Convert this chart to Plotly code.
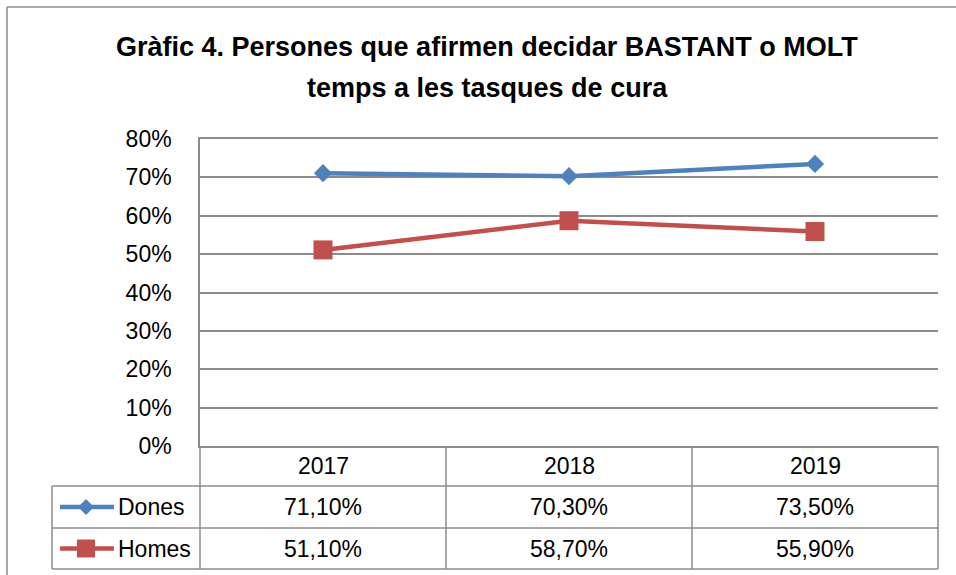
import plotly.graph_objects as go

# ---- data ----
years = ["2017", "2018", "2019"]
dones = [71.1, 70.3, 73.5]
homes = [51.1, 58.7, 55.9]
series_names = ["Dones", "Homes"]
y_ticks = [0, 10, 20, 30, 40, 50, 60, 70, 80]
title_lines = ["Gràfic 4. Persones que afirmen decidar BASTANT o MOLT",
               "temps a les tasques de cura"]

W, H = 956, 575
BLUE = "#4F81BD"
RED = "#C0504D"
GRID = "#8C8C8C"
FONT = "Liberation Sans"


def X(px):
    return px / W


def Y(py):
    return 1 - py / H


# plot area in pixels
PL, PR, PT, PB = 200, 938, 139, 446

fig = go.Figure()
fig.add_trace(go.Scatter(
    x=years, y=dones, mode="lines+markers", name=series_names[0],
    line=dict(color=BLUE, width=4.5),
    marker=dict(symbol="diamond", size=14, color=BLUE),
))
fig.add_trace(go.Scatter(
    x=years, y=homes, mode="lines+markers", name=series_names[1],
    line=dict(color=RED, width=4.5),
    marker=dict(symbol="square", size=19, color=RED),
))

shapes = []
def hline(y, x0, x1):
    shapes.append(dict(type="line", xref="paper", yref="paper",
                       x0=X(x0), x1=X(x1), y0=Y(y), y1=Y(y),
                       line=dict(color=GRID, width=1.5)))

def vline(x, y0, y1):
    shapes.append(dict(type="line", xref="paper", yref="paper",
                       x0=X(x), x1=X(x), y0=Y(y0), y1=Y(y1),
                       line=dict(color=GRID, width=1.5)))

# outer frame
vline(7, 7, 575)
hline(7, 7, 956)

# table grid
col_edges = [PL, 446, 692, PR]
row_edges = [PB, 486, 528, 569]
for x in col_edges:
    vline(x, PB, row_edges[-1])
vline(52, row_edges[1], row_edges[-1])
for y in row_edges[1:]:
    hline(y, 52, PR)

annotations = []
# title
for i, t in enumerate(title_lines):
    annotations.append(dict(text=f"<b>{t}</b>", xref="paper", yref="paper",
                            x=X(487), y=Y(47 + i * 41), showarrow=False,
                            xanchor="center", yanchor="middle",
                            font=dict(family=FONT, size=27, color="#000000")))

col_centers = [(col_edges[i] + col_edges[i + 1]) / 2 for i in range(3)]
row_centers = [(row_edges[i] + row_edges[i + 1]) / 2 for i in range(3)]

TS = 23
for c, yr in zip(col_centers, years):
    annotations.append(dict(text=yr, xref="paper", yref="paper", x=X(c), y=Y(row_centers[0]),
                            showarrow=False, xanchor="center", yanchor="middle",
                            font=dict(family=FONT, size=TS, color="#000000")))


def fmt(v):
    return f"{v:.2f}".replace(".", ",") + "%"


for r, (name, vals, col, sym) in enumerate(zip(series_names, [dones, homes], [BLUE, RED], ["diamond", "square"])):
    yc = row_centers[r + 1]
    for c, v in zip(col_centers, vals):
        annotations.append(dict(text=fmt(v), xref="paper", yref="paper", x=X(c), y=Y(yc),
                                showarrow=False, xanchor="center", yanchor="middle",
                                font=dict(family=FONT, size=TS, color="#000000")))
    annotations.append(dict(text=name, xref="paper", yref="paper", x=X(116), y=Y(yc),
                            showarrow=False, xanchor="left", yanchor="middle",
                            font=dict(family=FONT, size=TS, color="#000000")))
    # legend key line
    shapes.append(dict(type="line", xref="paper", yref="paper",
                       x0=X(60), x1=X(114), y0=Y(yc), y1=Y(yc),
                       line=dict(color=col, width=4.5)))
    cx = 86
    if sym == "diamond":
        d = 8
        path = (f"M {X(cx - d)} {Y(yc)} L {X(cx)} {Y(yc - d)} L {X(cx + d)} {Y(yc)} "
                f"L {X(cx)} {Y(yc + d)} Z")
    else:
        d = 9
        path = (f"M {X(cx - d)} {Y(yc - d)} L {X(cx + d)} {Y(yc - d)} L {X(cx + d)} {Y(yc + d)} "
                f"L {X(cx - d)} {Y(yc + d)} Z")
    shapes.append(dict(type="path", xref="paper", yref="paper", path=path,
                       fillcolor=col, line=dict(color=col, width=0)))

fig.update_layout(
    width=W, height=H,
    margin=dict(l=0, r=0, t=0, b=0, pad=0, autoexpand=False),
    paper_bgcolor="white", plot_bgcolor="white",
    showlegend=False,
    shapes=shapes,
    annotations=annotations,
    xaxis=dict(domain=[X(PL), X(PR)], type="category", range=[-0.5, 2.5],
               showticklabels=False, ticks="", showgrid=False,
               showline=True, mirror=True, linecolor=GRID, linewidth=1.5,
               zeroline=False, fixedrange=True, automargin=False),
    yaxis=dict(domain=[Y(PB), Y(PT)], range=[0, 80], tickvals=y_ticks,
               ticktext=[f"{v}%" for v in y_ticks],
               showgrid=True, gridcolor=GRID, gridwidth=1.5,
               showline=True, linecolor=GRID, linewidth=1.5,
               zeroline=False, ticks="", ticklabelstandoff=22,
               tickfont=dict(family=FONT, size=TS, color="#000000"),
               fixedrange=True, automargin=False),
)

fig.write_html("out.html", config={"displayModeBar": False},
               post_script="document.body.style.margin='0';document.body.style.overflow='hidden';")
